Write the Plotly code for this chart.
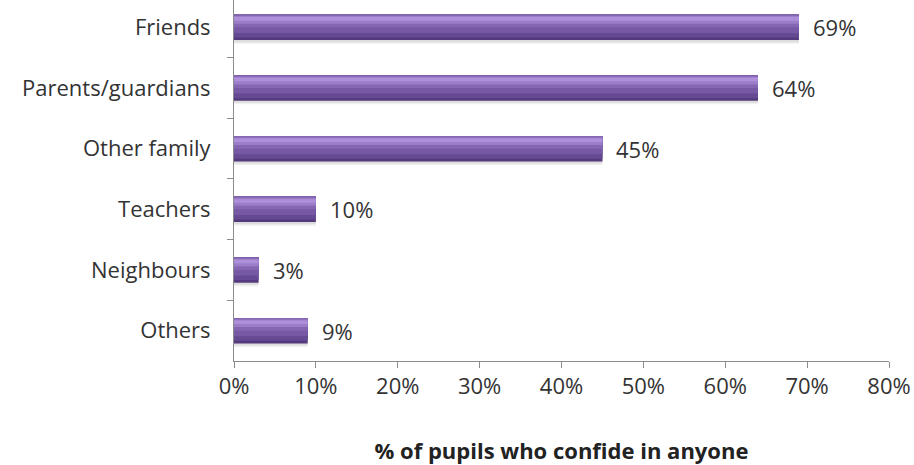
import plotly.graph_objects as go

categories = ["Friends", "Parents/guardians", "Other family", "Teachers", "Neighbours", "Others"]
values = [69, 64, 45, 10, 3, 9]
x_ticks = [0, 10, 20, 30, 40, 50, 60, 70, 80]
x_tick_labels = [f"{v}%" for v in x_ticks]

FONT = "'Open Sans', sans-serif"
BAR_W = 0.42
half = BAR_W / 2

fig = go.Figure()

# soft shadow beneath each bar
for dy, alpha in [(0.06, 0.06), (0.035, 0.08)]:
    fig.add_trace(go.Bar(y=categories, x=values, orientation="h", width=BAR_W,
                         offset=-half + dy, marker=dict(color=f"rgba(0,0,0,{alpha})", line_width=0),
                         hoverinfo="skip"))

# layered stripes give the bevelled purple look (dark base -> light top)
stripes = [
    (0.0, 1.0, "#54397c"),
    (0.0, 0.90, "#654992"),
    (0.0, 0.72, "#7658a5"),
    (0.0, 0.50, "#8466b3"),
    (0.06, 0.30, "#9b7dc8"),
    (0.10, 0.14, "#ad90d9"),
]
for start, frac, color in stripes:
    fig.add_trace(go.Bar(y=categories, x=values, orientation="h",
                         width=BAR_W * frac, offset=-half + BAR_W * start,
                         marker=dict(color=color, line_width=0), hoverinfo="skip"))

for cat, v in zip(categories, values):
    fig.add_annotation(x=v, y=cat, text=f"{v}%", showarrow=False, xanchor="left",
                       xshift=12, yshift=0, font=dict(family=FONT, size=22, color="#333333"))

fig.update_layout(
    width=914, height=465,
    margin=dict(l=234, r=25, t=0, b=104),
    barmode="overlay", showlegend=False,
    plot_bgcolor="white", paper_bgcolor="white",
    font=dict(family=FONT, size=22, color="#333333"),
    xaxis=dict(range=[0, 80], tickvals=x_ticks, ticktext=x_tick_labels,
               showgrid=False, zeroline=False, showline=True, linecolor="#8c8c8c",
               ticks="outside", ticklen=6, tickcolor="#8c8c8c",
               tickfont=dict(size=22),
               title=dict(text="<b>% of pupils who confide in anyone</b>",
                          font=dict(size=22, color="#222222"), standoff=48)),
    yaxis=dict(autorange=False, range=[5.5, -0.45], showgrid=False, zeroline=False,
               showline=True, linecolor="#8c8c8c", ticks="outside", ticklen=6,
               tickcolor="#8c8c8c", tickson="boundaries", ticklabelstandoff=18,
               tickfont=dict(size=22)),
)

fig.write_html("out.html")
